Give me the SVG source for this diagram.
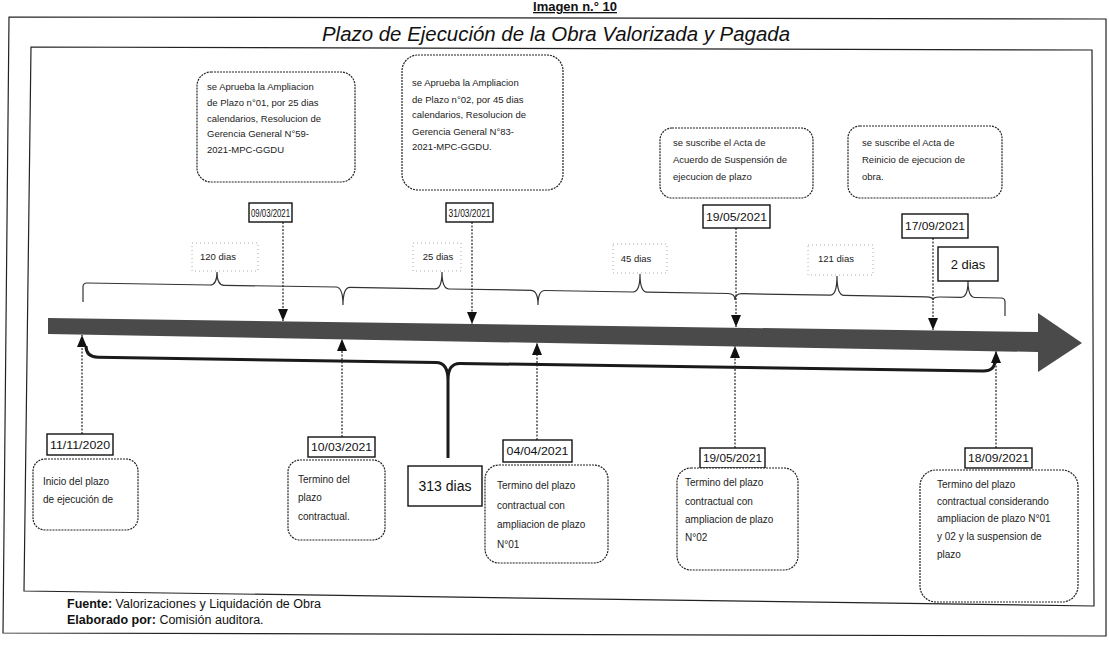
<svg xmlns="http://www.w3.org/2000/svg" width="1109" height="657" viewBox="0 0 1109 657">
<defs>
<marker id="ah" viewBox="0 0 12 10" markerWidth="12" markerHeight="10" refX="12" refY="5" orient="auto" markerUnits="userSpaceOnUse">
<path d="M0,0 L12,5 L0,10 z" fill="#111"/>
</marker>
<style>
.box{fill:#fff;stroke:#222;stroke-width:1.2;stroke-dasharray:2 1}
.date{fill:#fff;stroke:#111;stroke-width:1.4}
.t{font-family:"Liberation Sans",Arial,sans-serif;font-size:9.5px;fill:#222}
.tb{font-family:"Liberation Sans",Arial,sans-serif;font-size:10px;fill:#222}
.d{font-family:"Liberation Sans",Arial,sans-serif;font-size:11px;fill:#111}
.ds{font-family:"Liberation Sans",Arial,sans-serif;font-size:10px;fill:#111}
.lab{fill:none;stroke:#aaa;stroke-width:1;stroke-dasharray:1 3}
.conn{stroke:#222;stroke-width:1.2;stroke-dasharray:2 1.5;fill:none}
.frame{fill:none;stroke:#222;stroke-width:1.2}
</style>
</defs>
<rect width="1109" height="657" fill="#fff"/>
<!-- frames -->
<text x="575" y="11" text-anchor="middle" font-family="Liberation Sans, Arial, sans-serif" font-weight="bold" font-size="13" fill="#111" text-decoration="underline">Imagen n.° 10</text>
<polygon class="frame" points="9,17 1106,19 1106,636 3,633"/>
<text x="556" y="41" text-anchor="middle" font-family="Liberation Sans, Arial, sans-serif" font-style="italic" font-size="20" textLength="468" lengthAdjust="spacingAndGlyphs" fill="#111">Plazo de Ejecución de la Obra Valorizada y Pagada</text>
<polygon class="frame" points="31,47 1092,50 1094,606 24,591" stroke-width="1.5"/>
<!-- timeline bar -->
<g id="timeline">
<polygon points="48,318 1038,332 1038,313 1082,343 1038,372 1038,352 48,334" fill="#4a4a4a"/>
</g>
<!-- connectors -->
<g id="connectors">
<path d="M83,302 L83,287 Q83,283 87,283 L210,285 Q217,285 217,272 Q217,285.2 224,285.3 L336,287 Q343,287.2 343,305 Q343,287.2 350,287.3 L435,288.8 Q442,288.9 442,272 Q442,288.9 449,289 L531,290.3 Q538,290.4 538,305 Q538,290.4 545,290.5 L633,292 Q640,292.1 640,274 Q640,292.1 647,292.2 L728,293.5 Q735,293.6 735,300 Q735,293.6 742,293.7 L830,295.2 Q837,295.3 837,276 Q837,295.3 844,295.4 L926,296.8 Q933,296.9 933,300 Q933,296.9 940,297 L961,297.3 Q968,297.4 968,281 Q968,297.4 975,297.5 L1001,298 Q1005,298 1005,302 L1005,316" fill="none" stroke="#333" stroke-width="1.2"/>
<path d="M86,346 Q86,357 98,357.3 L436,362.5 Q448,362.7 448,380 L448,458 M448,380 Q448,363.2 460,363.4 L983,371 Q995,371.2 995,360" fill="none" stroke="#1a1a1a" stroke-width="3"/>
<line class="conn" x1="283" y1="222" x2="283" y2="321" marker-end="url(#ah)"/>
<line class="conn" x1="472" y1="222" x2="472" y2="324" marker-end="url(#ah)"/>
<line class="conn" x1="736" y1="228" x2="736" y2="327" marker-end="url(#ah)" stroke-dasharray="none"/>
<line class="conn" x1="933" y1="238" x2="933" y2="330" marker-end="url(#ah)"/>
<line class="conn" x1="82" y1="434" x2="82" y2="335" marker-end="url(#ah)"/>
<line class="conn" x1="342" y1="437" x2="342" y2="339" marker-end="url(#ah)"/>
<line class="conn" x1="537" y1="440" x2="537" y2="343" marker-end="url(#ah)"/>
<line class="conn" x1="735" y1="448" x2="735" y2="346" marker-end="url(#ah)"/>
<line class="conn" x1="996" y1="448" x2="996" y2="351" marker-end="url(#ah)"/>
</g>
<!-- day labels -->
<g id="lbl120"><rect class="lab" x="192" y="243" width="66" height="28"/><text class="t" x="218" y="260" text-anchor="middle">120 dias</text></g>
<g id="lbl25"><rect class="lab" x="413" y="243" width="48" height="28"/><text class="t" x="438" y="260" text-anchor="middle">25 dias</text></g>
<g id="lbl45"><rect class="lab" x="613" y="244" width="54" height="29"/><text class="t" x="636" y="262" text-anchor="middle">45 dias</text></g>
<g id="lbl121"><rect class="lab" x="808" y="245" width="65" height="30"/><text class="t" x="836" y="262" text-anchor="middle">121 dias</text></g>
<g id="lbl2"><rect class="date" x="938" y="247" width="60" height="34"/><text x="968" y="269" text-anchor="middle" font-family="Liberation Sans, Arial, sans-serif" font-size="13" fill="#111">2 dias</text></g>
<g id="lbl313"><rect class="date" x="408" y="466" width="74" height="40"/><text x="445" y="491" text-anchor="middle" font-family="Liberation Sans, Arial, sans-serif" font-size="14" fill="#111">313 dias</text></g>
<!-- top nodes -->
<g id="nodeA">
<rect class="box" x="197" y="72" width="158" height="110" rx="14"/>
<text class="t" x="207" y="90">se Aprueba la Ampliacion</text>
<text class="t" x="207" y="106">de Plazo n°01, por 25 dias</text>
<text class="t" x="207" y="122">calendarios, Resolucion de</text>
<text class="t" x="207" y="137">Gerencia General N°59-</text>
<text class="t" x="207" y="153">2021-MPC-GGDU</text>
</g>
<g id="dateA"><rect class="date" x="249" y="203" width="43" height="19"/><text class="ds" x="270.5" y="216.5" text-anchor="middle" textLength="39" lengthAdjust="spacingAndGlyphs">09/03/2021</text></g>
<g id="nodeB">
<rect class="box" x="402" y="55" width="161" height="135" rx="16"/>
<text class="t" x="412" y="86">se Aprueba la Ampliacion</text>
<text class="t" x="412" y="103">de Plazo n°02, por 45 dias</text>
<text class="t" x="412" y="118">calendarios, Resolucion de</text>
<text class="t" x="412" y="135">Gerencia General N°83-</text>
<text class="t" x="412" y="150">2021-MPC-GGDU.</text>
</g>
<g id="dateB"><rect class="date" x="446" y="203" width="47" height="19"/><text class="ds" x="469.5" y="216.5" text-anchor="middle" textLength="42" lengthAdjust="spacingAndGlyphs">31/03/2021</text></g>
<g id="nodeC">
<rect class="box" x="660" y="128" width="153" height="70" rx="12"/>
<text class="t" x="673" y="146">se suscribe el Acta de</text>
<text class="t" x="673" y="163">Acuerdo de Suspensión de</text>
<text class="t" x="673" y="180">ejecucion de plazo</text>
</g>
<g id="dateC"><rect class="date" x="703" y="205" width="67" height="23"/><text class="d" x="736.5" y="221" text-anchor="middle" textLength="61" lengthAdjust="spacingAndGlyphs">19/05/2021</text></g>
<g id="nodeD">
<rect class="box" x="848" y="126" width="154" height="72" rx="12"/>
<text class="t" x="862" y="146">se suscribe el Acta de</text>
<text class="t" x="862" y="163">Reinicio de ejecucion de</text>
<text class="t" x="862" y="180">obra.</text>
</g>
<g id="dateD"><rect class="date" x="902" y="214" width="66" height="24"/><text class="d" x="935" y="230" text-anchor="middle" textLength="60" lengthAdjust="spacingAndGlyphs">17/09/2021</text></g>
<!-- bottom nodes -->
<g id="dateE"><rect class="date" x="47" y="434" width="66" height="21"/><text class="d" x="80" y="449" text-anchor="middle" textLength="60" lengthAdjust="spacingAndGlyphs">11/11/2020</text></g>
<g id="nodeE">
<rect class="box" x="33" y="459" width="105" height="71" rx="12"/>
<text class="tb" x="43" y="485">Inicio del plazo</text>
<text class="tb" x="43" y="503">de ejecución de</text>
</g>
<g id="dateF"><rect class="date" x="308" y="437" width="67" height="20"/><text class="d" x="341.5" y="451" text-anchor="middle" textLength="61" lengthAdjust="spacingAndGlyphs">10/03/2021</text></g>
<g id="nodeF">
<rect class="box" x="288" y="460" width="97" height="80" rx="12"/>
<text class="tb" x="298" y="483">Termino del</text>
<text class="tb" x="298" y="501">plazo</text>
<text class="tb" x="298" y="520">contractual.</text>
</g>
<g id="dateG"><rect class="date" x="503" y="440" width="69" height="22"/><text class="d" x="537.5" y="455" text-anchor="middle" textLength="62" lengthAdjust="spacingAndGlyphs">04/04/2021</text></g>
<g id="nodeG">
<rect class="box" x="485" y="465" width="123" height="98" rx="14"/>
<text class="tb" x="497" y="489">Termino del plazo</text>
<text class="tb" x="497" y="509">contractual con</text>
<text class="tb" x="497" y="528">ampliacion de plazo</text>
<text class="tb" x="497" y="548">N°01</text>
</g>
<g id="dateH"><rect class="date" x="700" y="448" width="65" height="20"/><text class="d" x="732.5" y="462" text-anchor="middle" textLength="59" lengthAdjust="spacingAndGlyphs">19/05/2021</text></g>
<g id="nodeH">
<rect class="box" x="677" y="468" width="121" height="102" rx="14"/>
<text class="tb" x="685" y="486">Termino del plazo</text>
<text class="tb" x="685" y="505">contractual con</text>
<text class="tb" x="685" y="523">ampliacion de plazo</text>
<text class="tb" x="685" y="541">N°02</text>
</g>
<g id="dateI"><rect class="date" x="965" y="448" width="67" height="20"/><text class="d" x="998.5" y="462" text-anchor="middle" textLength="61" lengthAdjust="spacingAndGlyphs">18/09/2021</text></g>
<g id="nodeI">
<rect class="box" x="920" y="470" width="158" height="132" rx="16"/>
<text class="tb" x="937" y="488">Termino del plazo</text>
<text class="tb" x="937" y="505">contractual considerando</text>
<text class="tb" x="937" y="522">ampliacion de plazo N°01</text>
<text class="tb" x="937" y="540">y 02  y la suspension de</text>
<text class="tb" x="937" y="558">plazo</text>
</g>
<!-- footer -->
<text x="67" y="608" font-family="Liberation Sans, Arial, sans-serif" font-size="12.5" fill="#111"><tspan font-weight="bold">Fuente:</tspan> Valorizaciones y Liquidación de Obra</text>
<text x="67" y="624" font-family="Liberation Sans, Arial, sans-serif" font-size="12.5" fill="#111"><tspan font-weight="bold">Elaborado por:</tspan> Comisión auditora.</text>
</svg>
